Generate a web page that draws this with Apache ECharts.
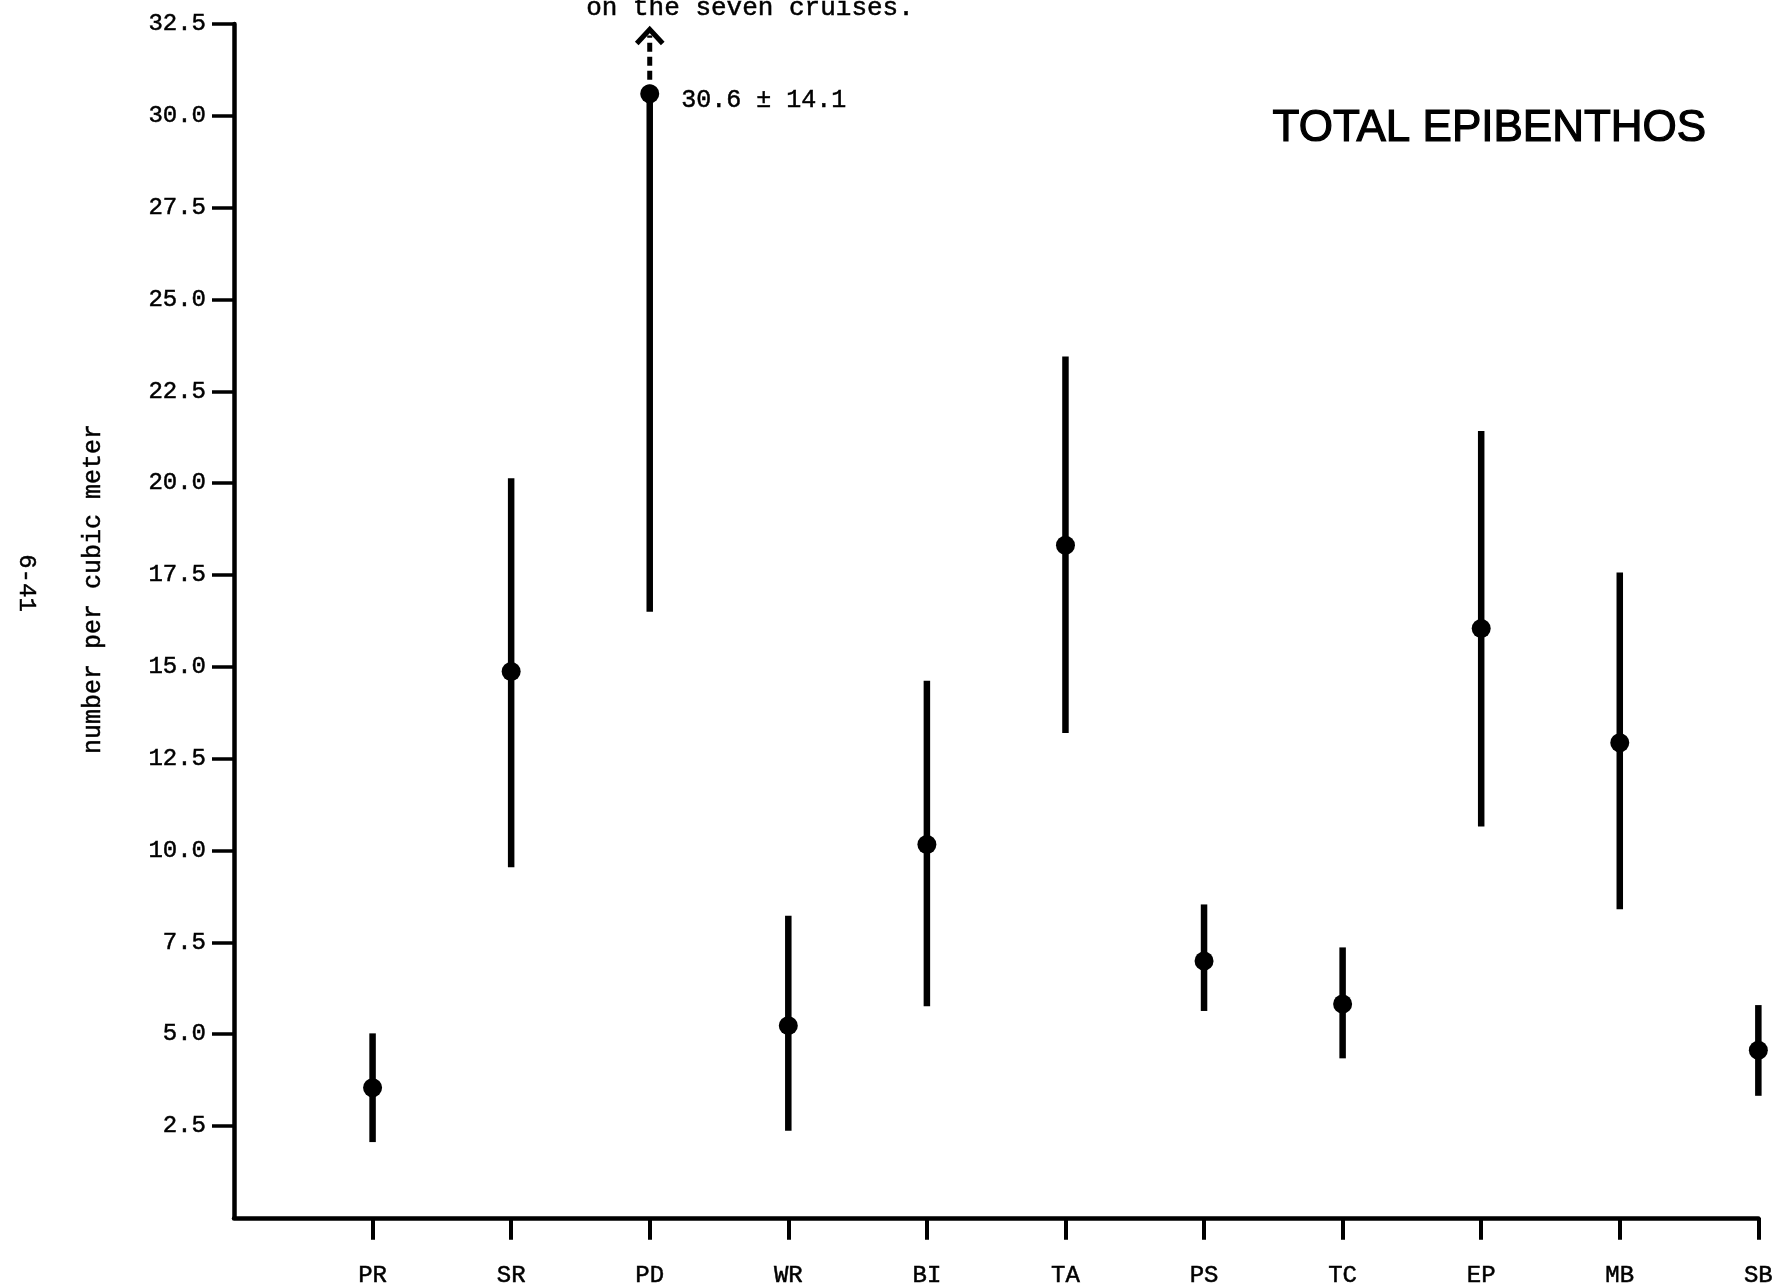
<!DOCTYPE html>
<html>
<head>
<meta charset="utf-8">
<script src="https://cdn.jsdelivr.net/npm/echarts@6/dist/echarts.min.js"></script>
<style>
html,body{margin:0;padding:0;background:#fff;}
#c{width:1776px;height:1288px;}
</style>
</head>
<body>
<div id="c"></div>
<script>
// Data
const categories = ['PR','SR','PD','WR','BI','TA','PS','TC','EP','MB','SB'];
const means = [3.54, 14.87, 30.6, 5.23, 10.16, 18.31, 6.99, 5.82, 16.04, 12.93, 4.56];
const lowers = [2.06, 9.54, 16.5, 2.37, 5.76, 13.20, 5.63, 4.34, 10.65, 8.40, 3.32];
const uppers = [5.02, 20.13, 44.7, 8.22, 14.62, 23.45, 8.53, 7.36, 21.42, 17.57, 5.79];
const yTicks = [2.5, 5.0, 7.5, 10.0, 12.5, 15.0, 17.5, 20.0, 22.5, 25.0, 27.5, 30.0, 32.5];
const yMax = 32.5;
const arrowTop = 32.35;
const pdNote = '30.6 ± 14.1';

const mono = '"Liberation Mono", "DejaVu Sans Mono", monospace';
const chart = echarts.init(document.getElementById('c'), null, {renderer: 'canvas'});

const positions = categories.map((c, i) => i + 1);

const option = {
  animation: false,
  backgroundColor: '#fff',
  grid: {left: 234, right: 17, top: 24, bottom: 67, containLabel: false},
  xAxis: {
    type: 'value', min: 0, max: 11, interval: 1,
    splitLine: {show: false},
    axisLine: {show: true, lineStyle: {color: '#000', width: 4.5}},
    axisTick: {show: true, customValues: positions, length: 22, lineStyle: {color: '#000', width: 4}},
    axisLabel: {
      customValues: positions, margin: 46,
      formatter: v => categories[Math.round(v) - 1] || '',
      fontFamily: mono, fontSize: 24, color: '#000',
      textBorderColor: '#000', textBorderWidth: 0.5
    }
  },
  yAxis: {
    type: 'value', min: 0, max: yMax, interval: 2.5,
    splitLine: {show: false},
    axisLine: {show: true, lineStyle: {color: '#000', width: 4.5}},
    axisTick: {show: true, customValues: yTicks, length: 22, lineStyle: {color: '#000', width: 3.5}},
    axisLabel: {
      customValues: yTicks, margin: 28,
      formatter: v => v.toFixed(1),
      fontFamily: mono, fontSize: 24, color: '#000',
      textBorderColor: '#000', textBorderWidth: 0.5
    }
  },
  series: [
    {
      type: 'custom',
      data: categories.map((c, i) => [positions[i], lowers[i], uppers[i], means[i]]),
      encode: {x: 0, y: [1, 2]},
      clip: false,
      renderItem: function (params, api) {
        const x = api.value(0), lo = api.value(1), hi = api.value(2), m = api.value(3);
        const pLo = api.coord([x, lo]);
        if (hi <= yMax) {
          const pHi = api.coord([x, hi]);
          return {type: 'line', shape: {x1: pLo[0], y1: pLo[1], x2: pHi[0], y2: pHi[1]},
            style: {stroke: '#000', lineWidth: 6.5}};
        }
        const pM = api.coord([x, m]);
        const pTop = api.coord([x, arrowTop]);
        return {type: 'group', children: [
          {type: 'line', shape: {x1: pLo[0], y1: pLo[1], x2: pM[0], y2: pM[1]},
            style: {stroke: '#000', lineWidth: 6.5}},
          {type: 'line', shape: {x1: pM[0], y1: pM[1], x2: pTop[0], y2: pTop[1] + 6},
            style: {stroke: '#000', lineWidth: 5, lineDash: [9, 5]}},
          {type: 'polyline', shape: {points: [[pTop[0] - 13, pTop[1] + 14], [pTop[0], pTop[1]], [pTop[0] + 13, pTop[1] + 14]]},
            style: {stroke: '#000', lineWidth: 5, fill: null}}
        ]};
      }
    },
    {
      type: 'scatter',
      symbol: 'circle', symbolSize: 19,
      itemStyle: {color: '#000', opacity: 1},
      data: categories.map((c, i) => {
        const d = {value: [positions[i], means[i]]};
        if (uppers[i] > yMax) {
          d.label = {show: true, position: 'right', distance: 22, offset: [0, 7],
            formatter: pdNote, fontFamily: mono, fontSize: 25, color: '#000',
            textBorderColor: '#000', textBorderWidth: 0.5};
        }
        return d;
      })
    }
  ],
  graphic: [
    {type: 'text', left: 1272, top: 106,
      style: {text: 'TOTAL EPIBENTHOS', font: '44px "Liberation Sans", Arial, sans-serif', fill: '#000', stroke: '#000', lineWidth: 1.2}},
    {type: 'text', x: 750, y: 21,
      style: {text: 'on the seven cruises.', font: '26px ' + mono, fill: '#000', textAlign: 'center', textVerticalAlign: 'bottom', stroke: '#000', lineWidth: 0.5}},
    {type: 'text', x: 93, y: 589, rotation: Math.PI / 2,
      style: {text: 'number per cubic meter', font: '25px ' + mono, fill: '#000', textAlign: 'center', textVerticalAlign: 'middle', stroke: '#000', lineWidth: 0.5}},
    {type: 'text', x: 26, y: 583, rotation: -Math.PI / 2,
      style: {text: '6-41', font: '24px ' + mono, fill: '#000', textAlign: 'center', textVerticalAlign: 'middle', stroke: '#000', lineWidth: 0.5}}
  ]
};
chart.setOption(option);
</script>
</body>
</html>
